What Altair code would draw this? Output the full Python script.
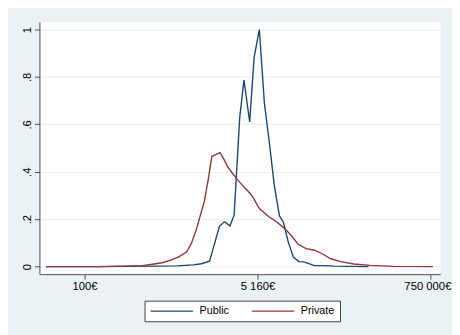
import altair as alt
import pandas as pd

# Axis ticks / labels
x_tick_values = [0, 1, 2]
x_tick_labels = ["100€", "5 160€", "750 000€"]
y_tick_values = [0, 0.2, 0.4, 0.6, 0.8, 1]

series_names = ["Public", "Private"]
series_colors = ["#1A476F", "#90353B"]

# Public series (x in tick units: 100€ = 0, 5 160€ = 1, 750 000€ = 2)
pub_x = [-0.223, 0.080, 0.233, 0.420, 0.534, 0.629, 0.676, 0.723, 0.752, 0.780,
         0.809, 0.841, 0.865, 0.897, 0.922, 0.955, 0.981, 1.011, 1.040, 1.070,
         1.097, 1.127, 1.150, 1.178, 1.207, 1.239, 1.267, 1.298, 1.330, 1.386,
         1.443, 1.528, 1.642]
pub_y = [0.0, 0.0, 0.001, 0.002, 0.003, 0.007, 0.012, 0.023, 0.097, 0.170,
         0.189, 0.172, 0.217, 0.625, 0.787, 0.610, 0.884, 1.0, 0.690, 0.515,
         0.345, 0.214, 0.187, 0.104, 0.041, 0.021, 0.020, 0.012, 0.004, 0.004,
         0.002, 0.001, 0.0]

# Private series
priv_x = [-0.223, 0.080, 0.231, 0.335, 0.402, 0.449, 0.496, 0.548, 0.591, 0.619,
          0.648, 0.693, 0.716, 0.736, 0.758, 0.784, 0.807, 0.828, 0.852, 0.875,
          0.898, 0.922, 0.946, 0.970, 0.989, 1.011, 1.034, 1.064, 1.112, 1.159,
          1.197, 1.235, 1.282, 1.330, 1.377, 1.424, 1.481, 1.557, 1.652, 1.784,
          2.015]
priv_y = [0.0, 0.0, 0.002, 0.004, 0.011, 0.016, 0.026, 0.042, 0.062, 0.100,
          0.160, 0.276, 0.370, 0.465, 0.472, 0.481, 0.451, 0.420, 0.397, 0.375,
          0.355, 0.336, 0.318, 0.297, 0.273, 0.245, 0.230, 0.211, 0.188, 0.159,
          0.130, 0.094, 0.076, 0.069, 0.053, 0.033, 0.021, 0.011, 0.005, 0.001,
          0.0]

df_pub = pd.DataFrame({"x": pub_x, "y": pub_y, "series": series_names[0]})
df_priv = pd.DataFrame({"x": priv_x, "y": priv_y, "series": series_names[1]})

x_label_expr = " : ".join(
    f"datum.value == {v} ? '{l}'" for v, l in zip(x_tick_values, x_tick_labels)
) + " : ''"

legend = alt.Legend(
    title=None,
    orient="none",
    legendX=107,
    legendY=284,
    direction="horizontal",
    symbolType="M-1,0H9",
    symbolSize=74,
    symbolStrokeWidth=1.3,
    labelOffset=40,
    columnPadding=20,
    padding=5,
    strokeColor="#404040",
    fillColor="white",
    labelFont="Liberation Sans",
    labelFontSize=11,
    labelColor="black",
)

x_enc = alt.X(
    "x:Q",
    scale=alt.Scale(domain=[-0.261, 2.057], nice=False, zero=False),
    axis=alt.Axis(
        values=x_tick_values,
        labelExpr=x_label_expr,
        title=None,
        grid=False,
        labelPadding=2,
        labelFlush=False,
        labelOverlap=False,
        labelOffset={
            "condition": {"test": f"datum.value == {x_tick_values[-1]}", "value": -3},
            "value": 0,
        },
    ),
)
y_enc = alt.Y(
    "y:Q",
    scale=alt.Scale(domain=[-0.032, 1.033], nice=False, zero=False),
    axis=alt.Axis(
        values=y_tick_values,
        labelExpr="replace(format(datum.value, '.1~f'), '0.', '.')",
        title=None,
        grid=True,
        labelAngle=-90,
        labelAlign="center",
        labelBaseline="alphabetic",
        labelPadding=4,
        labelFlush=False,
        labelOverlap=False,
    ),
)
color_enc = alt.Color(
    "series:N",
    scale=alt.Scale(domain=series_names, range=series_colors),
    legend=legend,
)

pub_line = alt.Chart(df_pub).mark_line(strokeWidth=1.4).encode(
    x=x_enc, y=y_enc, color=color_enc
)
priv_line = alt.Chart(df_priv).mark_line(strokeWidth=1.4).encode(
    x=x_enc, y=y_enc, color=color_enc
)

chart = (
    alt.layer(pub_line, priv_line)
    .properties(
        width=408,
        height=257,
        autosize=alt.AutoSizeParams(type="none"),
        padding={"left": 32, "top": 11, "right": 12, "bottom": 59},
        background="#EAF2F3",
    )
    .configure_view(fill="white", stroke="transparent")
    .configure_axis(
        domainColor="#4d4d4d",
        tickColor="#4d4d4d",
        domainWidth=1,
        tickWidth=1,
        tickSize=5,
        labelColor="black",
        labelFont="Liberation Sans",
        labelFontSize=11.5,
        gridColor="#EAF2F3",
        gridWidth=1.2,
    )
)

chart.save("out.html", embed_options={"renderer": "svg", "actions": False})
